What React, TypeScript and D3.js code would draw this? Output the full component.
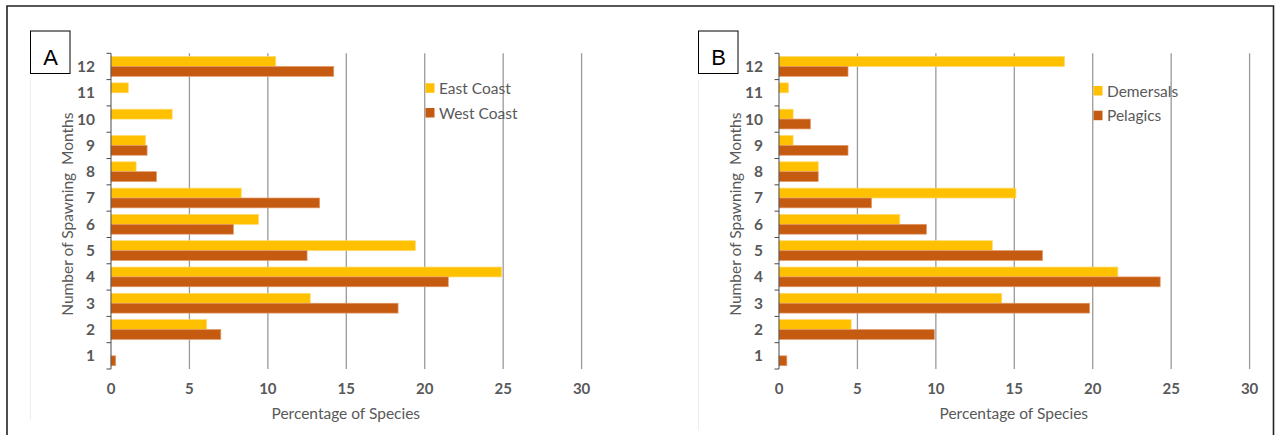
import React from "react";
import * as d3 from "d3";

const categories = [1, 2, 3, 4, 5, 6, 7, 8, 9, 10, 11, 12];
const xTicks = [0, 5, 10, 15, 20, 25, 30];

const eastCoast = [0, 6.1, 12.7, 24.9, 19.4, 9.4, 8.3, 1.6, 2.2, 3.9, 1.1, 10.5];
const westCoast = [0.3, 7.0, 18.3, 21.5, 12.5, 7.8, 13.3, 2.9, 2.3, 0, 0, 14.2];
const demersals = [0, 4.6, 14.2, 21.6, 13.6, 7.7, 15.1, 2.5, 0.9, 0.9, 0.6, 18.2];
const pelagics = [0.5, 9.9, 19.8, 24.3, 16.8, 9.4, 5.9, 2.5, 4.4, 2.0, 0, 4.4];

const YELLOW = "#FFC000";
const ORANGE = "#C55A11";
const TEXT = "#595959";
const FONT = "Lato, 'Liberation Sans', sans-serif";

type Series = { name: string; values: number[]; color: string; stroke: string };

type PanelProps = {
  letter: string;
  left: number;
  boxLeft: number;
  areaLeft: number;
  areaBottom: number;
  legendTop: number;
  series: Series[];
};

const PLOT_W = 470.6;
const TOP = 53.3;
const BOTTOM = 369;

function Panel({ letter, left, boxLeft, areaLeft, areaBottom, legendTop, series }: PanelProps) {
  const x = d3.scaleLinear().domain([0, 30]).range([left, left + PLOT_W]);
  const y = d3
    .scaleBand<number>()
    .domain([...categories].reverse())
    .range([TOP, BOTTOM])
    .paddingInner(0.25)
    .paddingOuter(0.125);
  const sub = d3
    .scaleBand<string>()
    .domain(series.map((s) => s.name))
    .range([0, y.bandwidth()]);
  const step = y.step();
  const boundaries = d3.range(categories.length + 1).map((i) => TOP + i * step);

  return (
    <g>
      <line x1={areaLeft} x2={areaLeft} y1={80} y2={areaBottom} stroke="#ededed" strokeWidth={1} />
      {xTicks.slice(1).map((t) => (
        <line key={t} x1={x(t)} x2={x(t)} y1={TOP} y2={BOTTOM} stroke="#9a9a9a" strokeWidth={1.3} />
      ))}
      {series.map((s) =>
        categories.map((c, i) =>
          s.values[i] > 0 ? (
            <rect
              key={s.name + c}
              x={x(0)}
              y={(y(c) as number) + (sub(s.name) as number)}
              width={x(s.values[i]) - x(0)}
              height={sub.bandwidth()}
              fill={s.color}
              stroke={s.stroke}
              strokeWidth={0.7}
            />
          ) : null
        )
      )}
      <line x1={x(0)} x2={x(0)} y1={TOP} y2={BOTTOM} stroke="#4a4a4a" strokeWidth={1} />
      {boundaries.map((b, i) => (
        <line key={i} x1={x(0) - 4.5} x2={x(0)} y1={b} y2={b} stroke="#4a4a4a" strokeWidth={1} />
      ))}
      {categories.map((c) => (
        <text
          key={c}
          x={x(0) - 16}
          y={(y(c) as number) + y.bandwidth() / 2 + 5.5}
          textAnchor="end"
          fontFamily={FONT}
          fontWeight="bold"
          fontSize={15.5}
          fill={TEXT}
        >
          {c}
        </text>
      ))}
      {xTicks.map((t) => (
        <text
          key={t}
          x={x(t)}
          y={394}
          textAnchor="middle"
          fontFamily={FONT}
          fontWeight="bold"
          fontSize={15}
          fill={TEXT}
        >
          {t}
        </text>
      ))}
      <text
        x={left + PLOT_W / 2 - 0.5}
        y={418.5}
        textAnchor="middle"
        fontFamily={FONT}
        fontSize={15.5}
        fill={TEXT}
      >
        Percentage of Species
      </text>
      <text
        transform={`translate(${left - 38.5},${(TOP + BOTTOM) / 2 + 3}) rotate(-90)`}
        textAnchor="middle"
        fontFamily={FONT}
        fontSize={15.5}
        fill={TEXT}
        style={{ whiteSpace: "pre" }}
      >
        {"Number of Spawning  Months"}
      </text>
      {series.map((s, i) => (
        <g key={s.name}>
          <rect x={left + 314.5} y={legendTop + i * 24.7} width={9} height={9.5} fill={s.color} />
          <text
            x={left + 328}
            y={legendTop + i * 24.7 + 10.5}
            fontFamily={FONT}
            fontSize={15.5}
            fill={TEXT}
          >
            {s.name}
          </text>
        </g>
      ))}
      <rect x={boxLeft} y={31} width={39.5} height={42.5} fill="#fff" stroke="#000" strokeWidth={1} />
      <text
        x={boxLeft + 20}
        y={64.5}
        textAnchor="middle"
        fontFamily="'Liberation Sans', sans-serif"
        fontSize={22}
        fill="#000"
      >
        {letter}
      </text>
    </g>
  );
}

export default function App() {
  const seriesA: Series[] = [
    { name: "East Coast", values: eastCoast, color: YELLOW, stroke: "#FFD966" },
    { name: "West Coast", values: westCoast, color: ORANGE, stroke: "#E29A6A" },
  ];
  const seriesB: Series[] = [
    { name: "Demersals", values: demersals, color: YELLOW, stroke: "#FFD966" },
    { name: "Pelagics", values: pelagics, color: ORANGE, stroke: "#E29A6A" },
  ];
  return (
    <svg
      width={1280}
      height={435}
      style={{ position: "absolute", left: 0, top: 0, background: "#fff" }}
    >
      <rect x={0} y={0} width={1280} height={435} fill="#fff" />
      <Panel letter="A" left={111} boxLeft={30.5} areaLeft={30.5} areaBottom={420} legendTop={83.3} series={seriesA} />
      <Panel letter="B" left={779} boxLeft={698.5} areaLeft={698.5} areaBottom={430} legendTop={86} series={seriesB} />
      <path d="M7,440 V6 H1273.5 V440" fill="none" stroke="#222" strokeWidth={1.6} />
    </svg>
  );
}
